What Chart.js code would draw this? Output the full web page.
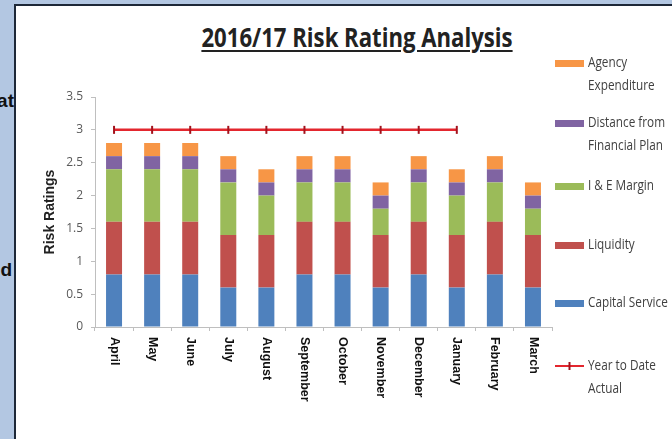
<!DOCTYPE html>
<html lang="en">
<head>
    <meta charset="UTF-8">
    <title>2016/17 Risk Rating Analysis</title>
    <script src="https://cdn.jsdelivr.net/npm/chart.js"></script>
    <style>
        html, body { margin: 0; padding: 0; }
        body { width: 672px; height: 439px; background: #b3c7e2; position: relative; overflow: hidden; }
        .frag { position: absolute; font: bold 19px "Liberation Sans", Arial, sans-serif; color: #111; white-space: nowrap; }
        #frame { position: absolute; left: 14px; top: 4px; width: 680px; height: 440px; background: #fff;
                 border-left: 2px solid #1d2838; border-top: 2px solid #1d2838; }
        #title { position: absolute; left: 341px; top: 12px; transform: translateX(-50%) scaleX(0.82); white-space: nowrap;
                 font: bold 27px "Open Sans", sans-serif; color: #222;
                 text-decoration: underline; text-decoration-thickness: 2px; text-underline-offset: 3px; }
        #chartBox { position: absolute; left: 0; top: 0; width: 656px; height: 433px; }
    </style>
</head>
<body>
    <!-- 슬라이드 뒤쪽 글자 일부 -->
    <div class="frag" style="top:90px; right:658px;">Treat</div>
    <div class="frag" style="top:259px; right:660px;">and</div>
    <div id="frame">
        <div id="title">2016/17 Risk Rating Analysis</div>
        <div id="chartBox"><canvas id="riskChart" width="656" height="433"></canvas></div>
    </div>
    <script>
        // 월별 위험 등급 데이터
        const months = ['April', 'May', 'June', 'July', 'August', 'September', 'October',
                        'November', 'December', 'January', 'February', 'March'];
        const capitalService = [0.8, 0.8, 0.8, 0.6, 0.6, 0.8, 0.8, 0.6, 0.8, 0.6, 0.8, 0.6];
        const liquidity      = [0.8, 0.8, 0.8, 0.8, 0.8, 0.8, 0.8, 0.8, 0.8, 0.8, 0.8, 0.8];
        const ieMargin       = [0.8, 0.8, 0.8, 0.8, 0.6, 0.6, 0.6, 0.4, 0.6, 0.6, 0.6, 0.4];
        const distancePlan   = [0.2, 0.2, 0.2, 0.2, 0.2, 0.2, 0.2, 0.2, 0.2, 0.2, 0.2, 0.2];
        const agencySpend    = [0.2, 0.2, 0.2, 0.2, 0.2, 0.2, 0.2, 0.2, 0.2, 0.2, 0.2, 0.2];
        const yearToDate     = [3, 3, 3, 3, 3, 3, 3, 3, 3, 3, null, null];
        const yTicks = [0, 0.5, 1, 1.5, 2, 2.5, 3, 3.5];

        // x축 글자를 위에서 아래로 읽히게 직접 그림
        const monthLabels = {
            id: 'monthLabels',
            afterDraw(chart) {
                const ctx = chart.ctx;
                const xs = chart.scales.x;
                ctx.save();
                ctx.font = 'bold 12.5px "Liberation Sans", Arial, sans-serif';
                ctx.fillStyle = '#111';
                ctx.textAlign = 'left';
                ctx.textBaseline = 'middle';
                chart.data.labels.forEach((m, i) => {
                    const x = xs.getPixelForTick(i);
                    ctx.save();
                    ctx.translate(x, chart.chartArea.bottom + 10);
                    ctx.rotate(Math.PI / 2);
                    ctx.fillText(m, 0, 0);
                    ctx.restore();
                });
                ctx.restore();
            }
        };

        // 오른쪽 범례 (줄바꿈, 좁은 글꼴 흉내)
        const sideLegend = {
            id: 'sideLegend',
            afterDraw(chart) {
                const ctx = chart.ctx;
                const order = [4, 3, 2, 1, 0, 5];
                const rows = [57, 117, 180, 239, 297, 360];
                const sx = 539, sw = 29, tx = 572, squeeze = 0.84;
                ctx.save();
                ctx.font = '14px "Open Sans", sans-serif';
                ctx.textBaseline = 'middle';
                ctx.textAlign = 'left';
                order.forEach((di, k) => {
                    const ds = chart.data.datasets[di];
                    const y = rows[k];
                    if (ds.type === 'line') {
                        ctx.strokeStyle = ds.borderColor;
                        ctx.lineWidth = 2;
                        ctx.beginPath();
                        ctx.moveTo(sx, y); ctx.lineTo(sx + sw, y);
                        ctx.stroke();
                        ctx.strokeStyle = ds.pointBorderColor;
                        ctx.beginPath();
                        ctx.moveTo(sx + sw / 2, y - 4); ctx.lineTo(sx + sw / 2, y + 4);
                        ctx.stroke();
                    } else {
                        ctx.fillStyle = ds.backgroundColor;
                        ctx.fillRect(sx, y - 3, sw, 7);
                    }
                    // 단어 단위 줄바꿈
                    const words = ds.label.split(' ');
                    const lines = [];
                    let cur = '';
                    words.forEach(w => {
                        const t = cur ? cur + ' ' + w : w;
                        if (cur && ctx.measureText(t).width * squeeze > 95) { lines.push(cur); cur = w; }
                        else cur = t;
                    });
                    lines.push(cur);
                    ctx.fillStyle = '#404040';
                    lines.forEach((ln, j) => {
                        ctx.save();
                        ctx.translate(tx, y + j * 23);
                        ctx.scale(squeeze, 1);
                        ctx.fillText(ln, 0, 0);
                        ctx.restore();
                    });
                });
                ctx.restore();
            }
        };

        function barSet(label, data, color) {
            return { label: label, data: data, backgroundColor: color, stack: 'bars', order: 1,
                     barPercentage: 0.84, categoryPercentage: 0.5 };
        }

        new Chart(document.getElementById('riskChart'), {
            type: 'bar',
            data: {
                labels: months,
                datasets: [
                    barSet('Capital Service', capitalService, '#4f81bd'),
                    barSet('Liquidity', liquidity, '#c0504d'),
                    barSet('I & E Margin', ieMargin, '#9bbb59'),
                    barSet('Distance from Financial Plan', distancePlan, '#8064a2'),
                    barSet('Agency Expenditure', agencySpend, '#f79646'),
                    {
                        type: 'line',
                        label: 'Year to Date Actual',
                        data: yearToDate,
                        stack: 'ytd',
                        order: 0,
                        borderColor: '#e3262e',
                        borderWidth: 2.5,
                        pointStyle: 'line',
                        rotation: 90,
                        pointRadius: 4,
                        pointBorderWidth: 2,
                        pointBorderColor: '#a3121c',
                        spanGaps: false,
                        tension: 0
                    }
                ]
            },
            options: {
                responsive: false,
                animation: false,
                layout: { padding: { left: 26, top: 91, right: 120, bottom: 0 } },
                plugins: {
                    legend: { display: false },
                    title: { display: false },
                    tooltip: { enabled: false }
                },
                scales: {
                    x: {
                        stacked: true,
                        offset: true,
                        ticks: { display: false },
                        grid: { display: true, drawOnChartArea: false, drawTicks: true, tickLength: 4, color: '#bfbfbf', offset: true },
                        border: { color: '#bfbfbf', width: 1 },
                        afterFit(s) { s.height = 112; }
                    },
                    y: {
                        stacked: true,
                        min: 0,
                        max: 3.5,
                        afterBuildTicks(s) { s.ticks = yTicks.map(v => ({ value: v })); },
                        ticks: {
                            color: '#595959',
                            font: { family: '"Open Sans", sans-serif', size: 12 },
                            padding: 8,
                            callback: v => String(v)
                        },
                        grid: { display: true, drawOnChartArea: false, drawTicks: true, tickLength: 4, color: '#bfbfbf' },
                        border: { color: '#bfbfbf', width: 1 },
                        title: {
                            display: true,
                            text: 'Risk Ratings',
                            color: '#222',
                            font: { family: '"Liberation Sans", Arial, sans-serif', size: 14, weight: 'bold' },
                            padding: { top: 0, bottom: 0 }
                        },
                        afterFit(s) { s.width = 53; }
                    }
                }
            },
            plugins: [monthLabels, sideLegend]
        });
    </script>
</body>
</html>
